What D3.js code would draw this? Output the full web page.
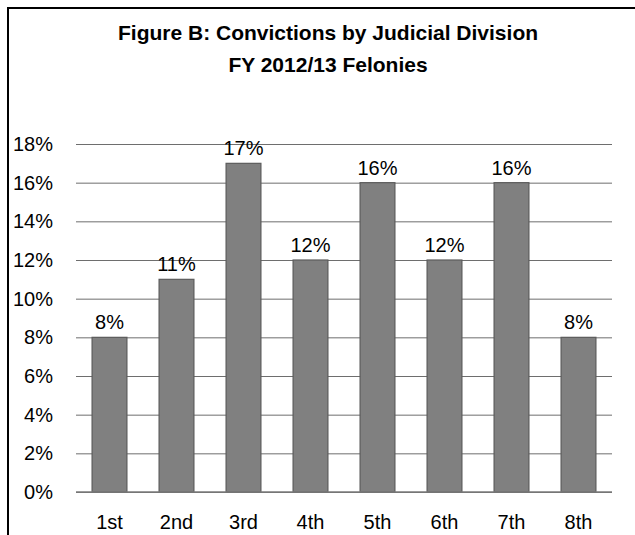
<!DOCTYPE html>
<html lang="en">
  <head>
    <meta charset="utf-8">
    <title>Figure B: Convictions by Judicial Division</title>
    <script src="https://d3js.org/d3.v7.min.js"></script>
    <style>
      body { margin: 0; background: #fff; }
      text { font-family: "Liberation Sans", Arial, sans-serif; fill: #000; }
    </style>
  </head>
  <body>
  <div id="chart"></div>
<script>

// data
var divisions = ["1st", "2nd", "3rd", "4th", "5th", "6th", "7th", "8th"];
var convictions = [8, 11, 17, 12, 16, 12, 16, 8];
var yTicks = [0, 2, 4, 6, 8, 10, 12, 14, 16, 18];
var titleLines = ["Figure B: Convictions by Judicial Division", "FY 2012/13 Felonies"];

var width = 635, height = 535;

var svg = d3.select("#chart")
  .append("svg")
    .attr("width", width)
    .attr("height", height);

// frame (only top and left edges are inside the picture)
svg.append("path")
    .attr("d", "M8,535 V8 H635")
    .attr("fill", "none")
    .attr("stroke", "#000")
    .attr("stroke-width", 2);

// title
svg.selectAll(".title")
  .data(titleLines)
  .enter()
  .append("text")
    .attr("class", "title")
    .attr("x", 328)
    .attr("y", function(d, i) { return 40 + i * 32; })
    .attr("text-anchor", "middle")
    .style("font-size", "21px")
    .style("font-weight", "bold")
    .text(function(d) { return d; });

// scales
var x = d3.scaleBand()
    .domain(divisions)
    .range([76, 612])
    .paddingInner(0.48)
    .paddingOuter(0.24);

var y = d3.scaleLinear()
    .domain([0, 18])
    .range([492, 144]);

// gridlines + y labels
var yAxis = svg.append("g")
    .attr("transform", "translate(76,0)")
    .call(d3.axisLeft(y)
            .tickValues(yTicks)
            .tickSize(-536)
            .tickPadding(23)
            .tickFormat(function(d) { return d + "%"; }));
yAxis.select(".domain").remove();
yAxis.selectAll(".tick line")
    .attr("stroke", "#6e6e6e")
    .attr("stroke-width", 1);
yAxis.selectAll(".tick text")
    .style("font-size", "20px")
    .style("font-family", "'Liberation Sans', Arial, sans-serif")
    .attr("fill", "#000");

// bars
svg.selectAll(".bar")
  .data(convictions)
  .enter()
  .append("rect")
    .attr("class", "bar")
    .attr("x", function(d, i) { return x(divisions[i]); })
    .attr("y", function(d) { return y(d); })
    .attr("width", x.bandwidth())
    .attr("height", function(d) { return y(0) - y(d); })
    .attr("fill", "#808080")
    .attr("stroke", "#5c5c5c")
    .attr("stroke-width", 1.2);

// baseline drawn over the bars
svg.append("line")
    .attr("x1", 76)
    .attr("x2", 612)
    .attr("y1", y(0))
    .attr("y2", y(0))
    .attr("stroke", "#7a7a7a")
    .attr("stroke-width", 1.5);

// value labels
svg.selectAll(".val")
  .data(convictions)
  .enter()
  .append("text")
    .attr("class", "val")
    .attr("x", function(d, i) { return x(divisions[i]) + x.bandwidth() / 2; })
    .attr("y", function(d) { return y(d) - 8; })
    .attr("text-anchor", "middle")
    .style("font-size", "20px")
    .text(function(d) { return d + "%"; });

// x labels
var xAxis = svg.append("g")
    .attr("transform", "translate(0," + y(0) + ")")
    .call(d3.axisBottom(x).tickSize(0).tickPadding(23));
xAxis.select(".domain").remove();
xAxis.selectAll(".tick text")
    .style("font-size", "20px")
    .style("font-family", "'Liberation Sans', Arial, sans-serif")
    .attr("fill", "#000");

</script>
  </body>
</html>
